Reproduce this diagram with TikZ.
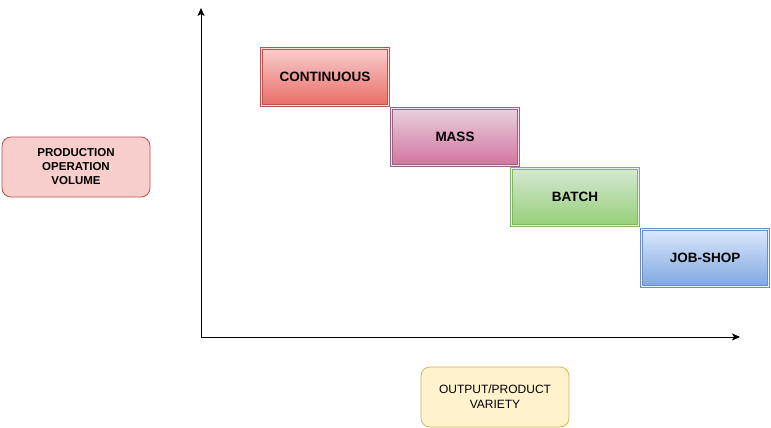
\documentclass[tikz,border=0pt]{standalone}
\usepackage{fontspec}
\setmainfont{Liberation Sans}
\usetikzlibrary{arrows.meta}
\definecolor{redline}{HTML}{B85450}
\definecolor{redtop}{HTML}{F8CECC}
\definecolor{redbot}{HTML}{EA6B66}
\definecolor{pinkline}{HTML}{996185}
\definecolor{pinktop}{HTML}{E6D0DE}
\definecolor{pinkbot}{HTML}{D5739D}
\definecolor{greenline}{HTML}{82B366}
\definecolor{greentop}{HTML}{D5E8D4}
\definecolor{greenbot}{HTML}{97D077}
\definecolor{blueline}{HTML}{6C8EBF}
\definecolor{bluetop}{HTML}{DAE8FC}
\definecolor{bluebot}{HTML}{7EA6E0}
\definecolor{yellowline}{HTML}{D6B656}
\definecolor{yellowfill}{HTML}{FFF2CC}
\tikzset{
  stagebox/.style={draw=#1line, line width=1pt,
    double=#1top!60!white, double distance=1.2pt,
    top color=#1top, bottom color=#1bot,
    minimum width=127pt, minimum height=57pt, inner sep=0pt,
    font=\fontsize{13.5}{16}\selectfont\bfseries},
  notebox/.style={draw=#1, rounded corners=9pt, line width=0.8pt,
    minimum width=148pt, minimum height=60pt, align=center, inner sep=0pt},
  axis/.style={line width=0.9pt, -{Stealth[length=8pt,width=7pt,inset=2pt]}}
}
\begin{document}
\begin{tikzpicture}[x=1pt,y=-1pt]
   \useasboundingbox[fill=white] (0,0) rectangle (771,428);
   % axes
   \coordinate (origin) at (201,337);
   \coordinate (ytop)   at (201,8);
   \coordinate (xend)   at (740,337);
   \draw[axis] (origin) -- (ytop);
   \draw[axis] (origin) -- (xend);
   % process types
   \node[stagebox=red]   (continuous) at (325,77)  {CONTINUOUS};
   \node[stagebox=pink]  (mass)       at (455,137) {MASS};
   \node[stagebox=green] (batch)      at (575,197) {BATCH};
   \node[stagebox=blue]  (jobshop)    at (705,258) {JOB-SHOP};
   % axis labels
   \node[notebox=redline, fill=redtop, font=\fontsize{11.5}{14}\selectfont\bfseries]
        (volume) at (76,167) {PRODUCTION\\OPERATION\\VOLUME};
   \node[notebox=yellowline, fill=yellowfill, font=\fontsize{12}{15}\selectfont]
        (variety) at (495,397) {OUTPUT/PRODUCT\\VARIETY};
\end{tikzpicture}
\end{document}
